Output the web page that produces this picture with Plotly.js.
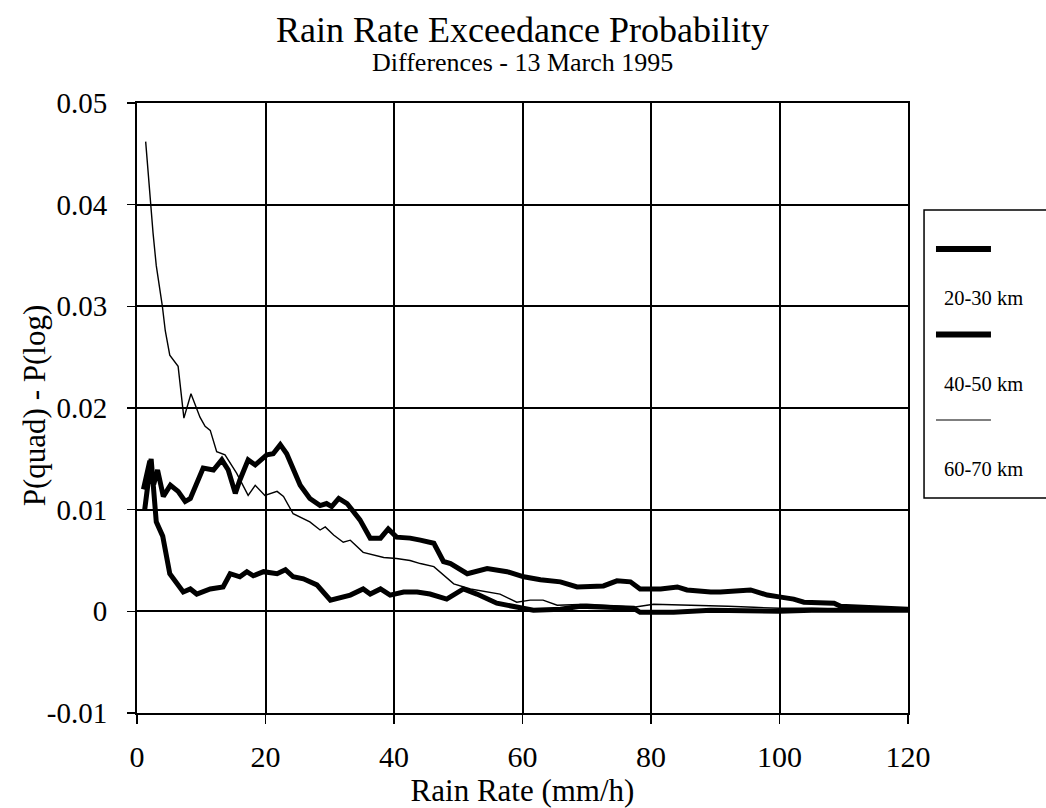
<!DOCTYPE html>
<html>
<head>
<meta charset="utf-8">
<script src="https://cdn.plot.ly/plotly-3.0.1.min.js"></script>
<style>html,body{margin:0;padding:0;background:#fff;}#chart{width:1046px;height:808px;}</style>
</head>
<body>
<div id="chart"></div>
<script>
// ---- data ----
const seriesNames = ['20-30 km', '40-50 km', '60-70 km'];

const x2030 = [1.0, 2.0, 2.6, 3.2, 4.1, 5.2, 6.4, 7.5, 8.3, 10.3, 11.9, 13.2, 14.2, 15.3, 16.0, 17.3, 18.4, 20.2, 21.2, 22.3, 23.3, 24.3, 25.4, 26.9, 28.5, 29.5, 30.3, 31.4, 32.7, 34.7, 36.3, 37.9, 39.1, 40.4, 42.5, 44.1, 46.2, 47.7, 48.8, 51.4, 52.9, 54.5, 57.6, 60.2, 62.8, 65.9, 68.5, 72.6, 74.7, 76.8, 78.3, 81.5, 84.1, 85.6, 89.3, 90.8, 95.5, 98.1, 100.2, 102.2, 103.8, 108.5, 109.5, 113.7, 118.8, 120];
const y2030 = [0.0120, 0.0148, 0.0125, 0.0139, 0.0113, 0.0124, 0.0118, 0.0108, 0.0111, 0.0141, 0.0139, 0.0149, 0.0139, 0.0116, 0.0129, 0.0149, 0.0144, 0.0154, 0.0155, 0.0164, 0.0155, 0.0139, 0.0124, 0.0111, 0.0104, 0.0106, 0.0103, 0.0111, 0.0106, 0.0090, 0.0072, 0.0072, 0.0081, 0.0073, 0.0072, 0.0070, 0.0067, 0.0049, 0.0047, 0.0037, 0.0040, 0.0042, 0.0039, 0.0034, 0.0031, 0.0029, 0.0024, 0.0025, 0.0030, 0.0029, 0.0022, 0.0022, 0.0024, 0.0021, 0.0019, 0.0019, 0.0021, 0.0016, 0.0014, 0.0012, 0.0009, 0.0008, 0.0005, 0.0004, 0.0003, 0.0002];

const x4050 = [1.2, 2.2, 3.0, 4.0, 5.1, 7.2, 8.3, 9.3, 11.4, 13.4, 14.5, 16.0, 17.1, 18.1, 19.7, 21.8, 23.1, 24.3, 25.9, 28.0, 30.1, 31.6, 33.2, 35.2, 36.3, 37.9, 39.4, 41.5, 43.6, 45.6, 48.2, 50.8, 52.9, 56.0, 59.1, 61.7, 65.9, 69.0, 73.2, 77.3, 78.3, 83.5, 89.3, 95, 100, 105, 110, 115, 120];
const y4050 = [0.0100, 0.0150, 0.0088, 0.0074, 0.0037, 0.0019, 0.0022, 0.0017, 0.0022, 0.0024, 0.0037, 0.0034, 0.0039, 0.0035, 0.0039, 0.0037, 0.0041, 0.0034, 0.0032, 0.0026, 0.0011, 0.0013, 0.0016, 0.0022, 0.0017, 0.0022, 0.0016, 0.0019, 0.0019, 0.0017, 0.0012, 0.0022, 0.0017, 0.0008, 0.0004, 0.0001, 0.0002, 0.0005, 0.0004, 0.0003, -0.0001, -0.0001, 0.0001, 0.0000, 0.0000, 0.0001, 0.0001, 0.0001, 0.0001];

const x6070 = [1.35, 2.1, 2.5, 3.0, 3.95, 4.4, 5.1, 6.4, 7.3, 8.4, 9.8, 10.6, 11.4, 12.4, 13.7, 15.5, 17.3, 18.4, 19.9, 21.8, 22.8, 24.3, 26.9, 28.5, 29.3, 30.6, 32.1, 33.2, 35.2, 38.4, 40.4, 42.5, 44.1, 46.2, 49.3, 51.9, 56.5, 59.1, 61.2, 63.2, 65.4, 70, 77.3, 80.4, 88.2, 92, 96, 100, 105, 110, 115, 120];
const y6070 = [0.0462, 0.0398, 0.0372, 0.0340, 0.0300, 0.0276, 0.0252, 0.0241, 0.0190, 0.0214, 0.0191, 0.0182, 0.0178, 0.0157, 0.0154, 0.0136, 0.0114, 0.0124, 0.0114, 0.0118, 0.0113, 0.0096, 0.0088, 0.0080, 0.0083, 0.0075, 0.0068, 0.0070, 0.0058, 0.0053, 0.0052, 0.0050, 0.0047, 0.0044, 0.0027, 0.0022, 0.0017, 0.0009, 0.0011, 0.0011, 0.0006, 0.0007, 0.0004, 0.0007, 0.0006, 0.0005, 0.0004, 0.0003, 0.0003, 0.0002, 0.0002, 0.0001];

const xTickVals = [0, 20, 40, 60, 80, 100, 120];
const yTickVals = [-0.01, 0, 0.01, 0.02, 0.03, 0.04, 0.05];
const yTickText = ['-0.01', '0', '0.01', '0.02', '0.03', '0.04', '0.05'];

// ---- chart ----
const FONT = 'Liberation Serif, Times New Roman, serif';
const lineWidths = [5, 5, 1.4];
const xs = [x2030, x4050, x6070];
const ys = [y2030, y4050, y6070];

const traces = seriesNames.map((n, i) => ({
  type: 'scatter', mode: 'lines', name: n,
  x: xs[i], y: ys[i],
  line: {color: '#000', width: lineWidths[i], shape: 'linear'},
  showlegend: false, cliponaxis: false
}));

// custom legend: sample line above label, in a bordered box
const legTop = 0.7607, legStep = 0.1402;
const shapes = [{
  type: 'rect', xref: 'paper', yref: 'paper',
  x0: 1.0208, x1: 1.2, y0: 0.3525, y1: 0.8246,
  line: {color: '#000', width: 1.5}
}];
const annotations = [{
  xref: 'paper', yref: 'paper', x: 0.5, y: 1.0656, xanchor: 'center', yanchor: 'middle',
  showarrow: false, text: 'Differences - 13 March 1995',
  font: {family: FONT, size: 26, color: '#000'}
}, {
  xref: 'paper', yref: 'paper', x: -0.1335, y: 0.503, xanchor: 'center', yanchor: 'middle',
  showarrow: false, textangle: -90, text: 'P(quad) - P(log)',
  font: {family: FONT, size: 31, color: '#000'}
}];
seriesNames.forEach((n, i) => {
  const yy = legTop - i * legStep;
  shapes.push({type: 'line', xref: 'paper', yref: 'paper',
    x0: 1.0363, x1: 1.1076, y0: yy, y1: yy,
    line: {color: '#000', width: lineWidths[i] === 5 ? 6 : 1.2}});
  annotations.push({xref: 'paper', yref: 'paper', x: 1.044, y: yy - 0.0805,
    xanchor: 'left', yanchor: 'middle', showarrow: false, text: n,
    font: {family: FONT, size: 20.5, color: '#000'}});
});

const layout = {
  width: 1046, height: 808,
  margin: {l: 137, r: 138, t: 103, b: 95, pad: 0},
  paper_bgcolor: '#fff', plot_bgcolor: '#fff',
  font: {family: FONT, color: '#000'},
  title: {
    text: 'Rain Rate Exceedance Probability',
    font: {family: FONT, size: 36, color: '#000'},
    x: 0.5, xref: 'paper', xanchor: 'center',
    y: 0.964, yref: 'container', yanchor: 'middle'
  },
  xaxis: {
    range: [0, 120], tickvals: xTickVals,
    showgrid: true, gridcolor: '#000', gridwidth: 2,
    showline: true, linecolor: '#000', linewidth: 2, mirror: true,
    zeroline: false,
    ticks: 'outside', ticklen: 9, tickwidth: 1.5, tickcolor: '#000',
    ticklabelstandoff: 7,
    tickfont: {family: FONT, size: 30, color: '#000'},
    title: {text: 'Rain Rate (mm/h)', font: {family: FONT, size: 31, color: '#000'}, standoff: 0}
  },
  xaxis2: {
    range: [0, 120], tickvals: xTickVals, overlaying: 'x', anchor: 'y',
    showgrid: false, showline: false, zeroline: false, showticklabels: false,
    ticks: 'inside', ticklen: 9, tickwidth: 1.5, tickcolor: '#000'
  },
  yaxis: {
    range: [-0.01, 0.05], tickvals: yTickVals, ticktext: yTickText,
    showgrid: true, gridcolor: '#000', gridwidth: 2,
    showline: true, linecolor: '#000', linewidth: 2, mirror: true,
    zeroline: false,
    ticks: 'outside', ticklen: 8, tickwidth: 1.5, tickcolor: '#000',
    ticklabelstandoff: 14,
    tickfont: {family: FONT, size: 29, color: '#000'}
  },
  shapes: shapes,
  annotations: annotations,
  showlegend: false
};

Plotly.newPlot('chart', traces, layout, {displayModeBar: false, staticPlot: true});
</script>
</body>
</html>
